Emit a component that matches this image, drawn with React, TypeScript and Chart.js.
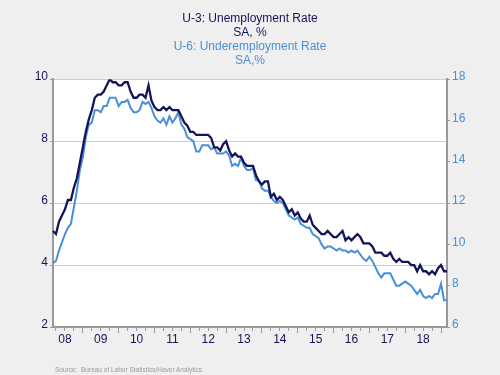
import React, { useEffect, useRef } from "react";
import { Chart, registerables } from "chart.js";

Chart.register(...registerables);

// Monthly data, Mar 2008 .. Mar 2019
const START_YEAR = 2008;
const START_MONTH = 3;

const u3_2008 = [5.1, 5.0, 5.4, 5.6, 5.8, 6.1, 6.1, 6.5, 6.8, 7.3];
const u3_2009 = [7.8, 8.3, 8.7, 9.0, 9.4, 9.5, 9.5, 9.6, 9.8, 10.0, 9.9, 9.9];
const u3_2010 = [9.8, 9.8, 9.9, 9.9, 9.6, 9.4, 9.4, 9.5, 9.5, 9.4, 9.8, 9.3];
const u3_2011 = [9.1, 9.0, 9.0, 9.1, 9.0, 9.1, 9.0, 9.0, 9.0, 8.8, 8.6, 8.5];
const u3_2012 = [8.3, 8.3, 8.2, 8.2, 8.2, 8.2, 8.2, 8.1, 7.8, 7.8, 7.7, 7.9];
const u3_2013 = [8.0, 7.7, 7.5, 7.6, 7.5, 7.5, 7.3, 7.2, 7.2, 7.2, 6.9, 6.7];
const u3_2014 = [6.6, 6.7, 6.7, 6.2, 6.3, 6.1, 6.2, 6.1, 5.9, 5.7, 5.8, 5.6];
const u3_2015 = [5.7, 5.5, 5.4, 5.4, 5.6, 5.3, 5.2, 5.1, 5.0, 5.0, 5.1, 5.0];
const u3_2016 = [4.9, 4.9, 5.0, 5.1, 4.8, 4.9, 4.8, 4.9, 5.0, 4.9, 4.7, 4.7];
const u3_2017 = [4.7, 4.6, 4.4, 4.4, 4.4, 4.3, 4.3, 4.4, 4.2, 4.1, 4.2, 4.1];
const u3_2018 = [4.1, 4.1, 4.0, 4.0, 3.8, 4.0, 3.8, 3.8, 3.7, 3.8, 3.7, 3.9];
const u3_2019 = [4.0, 3.8, 3.8];

const u6_2008 = [9.1, 9.2, 9.7, 10.1, 10.5, 10.8, 11.0, 11.8, 12.6, 13.6];
const u6_2009 = [14.2, 15.2, 15.8, 15.9, 16.5, 16.5, 16.4, 16.7, 16.7, 17.1, 17.1, 17.1];
const u6_2010 = [16.7, 16.9, 16.9, 17.0, 16.6, 16.4, 16.4, 16.5, 16.9, 16.8, 16.9, 16.6];
const u6_2011 = [16.2, 16.0, 15.9, 16.1, 15.8, 16.2, 15.9, 16.1, 16.4, 15.8, 15.6, 15.2];
const u6_2012 = [15.1, 15.0, 14.5, 14.5, 14.8, 14.8, 14.8, 14.6, 14.7, 14.4, 14.4, 14.4];
const u6_2013 = [14.5, 14.3, 13.8, 13.9, 13.8, 14.2, 13.8, 13.6, 13.6, 13.7, 13.1, 13.1];
const u6_2014 = [12.7, 12.6, 12.6, 12.3, 12.1, 12.0, 12.1, 12.0, 11.7, 11.4, 11.3, 11.2];
const u6_2015 = [11.3, 11.0, 10.9, 10.8, 10.8, 10.5, 10.4, 10.3, 10.0, 9.8, 9.9, 9.9];
const u6_2016 = [9.8, 9.7, 9.8, 9.7, 9.7, 9.6, 9.7, 9.6, 9.7, 9.5, 9.3, 9.2];
const u6_2017 = [9.4, 9.2, 8.9, 8.6, 8.4, 8.6, 8.6, 8.6, 8.3, 8.0, 8.0, 8.1];
const u6_2018 = [8.2, 8.1, 8.0, 7.8, 7.6, 7.8, 7.5, 7.4, 7.5, 7.4, 7.6, 7.6];
const u6_2019 = [8.1, 7.3, 7.3];

const u3 = [
  ...u3_2008, ...u3_2009, ...u3_2010, ...u3_2011, ...u3_2012, ...u3_2013,
  ...u3_2014, ...u3_2015, ...u3_2016, ...u3_2017, ...u3_2018, ...u3_2019,
];
const u6 = [
  ...u6_2008, ...u6_2009, ...u6_2010, ...u6_2011, ...u6_2012, ...u6_2013,
  ...u6_2014, ...u6_2015, ...u6_2016, ...u6_2017, ...u6_2018, ...u6_2019,
];

// month categories "YYYY-MM"
const months: string[] = u3.map((_, i) => {
  const t = START_MONTH - 1 + i;
  const y = START_YEAR + Math.floor(t / 12);
  const m = (t % 12) + 1;
  return `${y}-${String(m).padStart(2, "0")}`;
});

const leftTicks = [2, 4, 6, 8, 10];
const rightTicks = [6, 8, 10, 12, 14, 16, 18];

const NAVY = "#14145a";
const BLUE = "#4a8fd8";
const AXIS = "#9a9a9a";
const GRID = "#cdcdcd";
const FONT = "'Liberation Sans', Arial, sans-serif";

const monthOf = (lab: string) => parseInt(lab.slice(5, 7), 10);

const plotBg = {
  id: "plotBg",
  beforeDraw(chart: any) {
    const { ctx, chartArea: a } = chart;
    ctx.save();
    ctx.fillStyle = "#ffffff";
    ctx.fillRect(a.left, a.top, a.right - a.left, a.bottom - a.top);
    ctx.restore();
  },
};

export default function App() {
  const ref = useRef<HTMLCanvasElement | null>(null);

  useEffect(() => {
    if (!ref.current) return;
    const chart = new Chart(ref.current, {
      type: "line",
      data: {
        labels: months,
        datasets: [
          {
            label: "U-3: Unemployment Rate",
            data: u3,
            yAxisID: "y",
            borderColor: NAVY,
            borderWidth: 2.3,
            pointRadius: 0,
            tension: 0,
          },
          {
            label: "U-6: Underemployment Rate",
            data: u6,
            yAxisID: "y1",
            borderColor: BLUE,
            borderWidth: 2,
            pointRadius: 0,
            tension: 0,
          },
        ],
      },
      options: {
        responsive: false,
        animation: false,
        layout: { padding: { left: 0, right: 0, top: 0, bottom: 0 } },
        plugins: {
          legend: { display: false },
          tooltip: { enabled: false },
          title: {
            display: true,
            text: ["U-3: Unemployment Rate", "SA, %"],
            color: NAVY,
            font: { family: FONT, size: 12, weight: "normal", lineHeight: 1.17 },
            padding: { top: 12, bottom: 0 },
          },
          subtitle: {
            display: true,
            text: ["U-6: Underemployment Rate", "SA,%"],
            color: BLUE,
            font: { family: FONT, size: 12, weight: "normal", lineHeight: 1.17 },
            padding: { top: 0, bottom: 11 },
          },
        },
        scales: {
          x: {
            type: "category",
            offset: false,
            afterBuildTicks(scale: any) {
              scale.ticks = scale.ticks.filter((t: any) => {
                const m = monthOf(months[t.value]);
                return m === 1 || m === 4 || m === 7 || m === 10;
              });
            },
            afterFit(scale: any) {
              scale.height = 48;
            },
            grid: {
              display: true,
              drawOnChartArea: false,
              tickLength: 6,
              tickColor: AXIS,
              tickWidth: 1,
              tickBorderDash: (ctx: any) => {
                const v = ctx.tick ? ctx.tick.value : 0;
                return monthOf(months[v]) === 1 ? [] : [3, 20];
              },
            },
            border: { display: true, color: AXIS, width: 2 },
            ticks: {
              autoSkip: false,
              maxRotation: 0,
              color: NAVY,
              padding: -1,
              font: { family: FONT, size: 12 },
              callback(value: any) {
                const lab = months[value as number];
                return monthOf(lab) === 7 ? lab.slice(2, 4) : "";
              },
            },
          },
          y: {
            position: "left",
            min: 2,
            max: 10,
            afterBuildTicks(scale: any) {
              scale.ticks = leftTicks.map((v) => ({ value: v }));
            },
            afterFit(scale: any) {
              scale.width = 53;
            },
            grid: { color: GRID, tickLength: 3, tickColor: AXIS, lineWidth: 1 },
            border: { display: true, color: AXIS, width: 2 },
            ticks: {
              color: NAVY,
              padding: 2,
              labelOffset: -2,
              font: { family: FONT, size: 12 },
            },
          },
          y1: {
            position: "right",
            min: 6,
            max: 18,
            afterBuildTicks(scale: any) {
              scale.ticks = rightTicks.map((v) => ({ value: v }));
            },
            afterFit(scale: any) {
              scale.width = 53;
            },
            grid: { drawOnChartArea: false, tickLength: 3, tickColor: AXIS },
            border: { display: true, color: AXIS, width: 2 },
            ticks: {
              color: BLUE,
              padding: 2,
              labelOffset: -2,
              font: { family: FONT, size: 12 },
            },
          },
        },
      },
      plugins: [plotBg],
    } as any);
    return () => chart.destroy();
  }, []);

  return (
    <div
      style={{
        position: "absolute",
        left: 0,
        top: 0,
        width: 500,
        height: 375,
        background: "#efefef",
        overflow: "hidden",
      }}
    >
      <canvas ref={ref} width={500} height={375} style={{ display: "block" }} />
      <div
        style={{
          position: "absolute",
          left: 55,
          top: 366,
          fontFamily: FONT,
          fontSize: 6.5,
          color: "#999999",
          whiteSpace: "pre",
          lineHeight: "8px",
        }}
      >
        {"Source:  Bureau of Labor Statistics/Haver Analytics"}
      </div>
    </div>
  );
}
